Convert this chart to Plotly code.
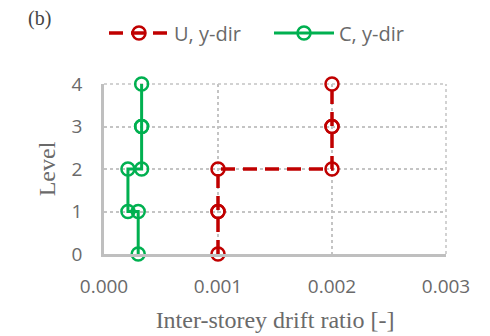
import plotly.graph_objects as go

# Storey drift profiles: each storey's drift is held constant between its floor levels
levels = [0, 1, 1, 2, 2, 3, 3, 4]
drift_u = [0.001, 0.001, 0.001, 0.001, 0.002, 0.002, 0.002, 0.002]
drift_c = [0.0003, 0.0003, 0.00021, 0.00021, 0.00033, 0.00033, 0.00033, 0.00033]

x_ticks = [0.000, 0.001, 0.002, 0.003]
y_ticks = [0, 1, 2, 3, 4]

RED = "#C00000"
GREEN = "#00B050"
GRAY_TXT = "#6A6A6A"
GRID = "#C4C4C4"
AXIS = "#BFBFBF"

fig = go.Figure()
fig.add_trace(go.Scatter(
    x=drift_u, y=levels, name="U, y-dir", mode="lines+markers",
    line=dict(color=RED, width=3.5, dash="14px,8px"),
    marker=dict(symbol="circle-open", size=13, color=RED, line=dict(width=2.5)),
    cliponaxis=False,
))
fig.add_trace(go.Scatter(
    x=drift_c, y=levels, name="C, y-dir", mode="lines+markers",
    line=dict(color=GREEN, width=3),
    marker=dict(symbol="circle-open", size=13, color=GREEN, line=dict(width=2.5)),
    cliponaxis=False,
))

# dotted frame on the top and right edges, continuing the grid
frame = dict(type="line", layer="below", line=dict(color=GRID, width=1.5, dash="dot"))
fig.add_shape(xref="paper", yref="paper", x0=0, x1=1, y0=1, y1=1, **frame)
fig.add_shape(xref="paper", yref="paper", x0=1, x1=1, y0=0, y1=1, **frame)

fig.update_layout(
    width=490, height=336,
    margin=dict(l=104, r=44, t=84, b=82),
    paper_bgcolor="white", plot_bgcolor="white",
    font=dict(family="Open Sans", color=GRAY_TXT, size=19),
    showlegend=True,
    legend=dict(
        orientation="h", x=0.0, xanchor="left", y=1.30, yanchor="middle",
        font=dict(family="Open Sans", size=20, color=GRAY_TXT),
        itemwidth=60, entrywidth=90, bgcolor="rgba(0,0,0,0)",
    ),
    annotations=[dict(
        text="(b)", xref="paper", yref="paper", x=-0.19, y=1.385,
        xanchor="center", yanchor="middle", showarrow=False,
        font=dict(family="Liberation Serif", size=20, color="#444444"),
    )],
)

fig.update_xaxes(
    range=[0, 0.003], tickvals=x_ticks, tickformat=".3f",
    showgrid=True, gridcolor=GRID, griddash="dot", gridwidth=1.5,
    showline=True, linecolor=AXIS, linewidth=2.5,
    zeroline=False, ticks="", ticklabelstandoff=13, automargin=False,
    tickfont=dict(family="Open Sans", size=19, color=GRAY_TXT),
    title=dict(text="Inter-storey drift ratio [-]", standoff=14,
               font=dict(family="Liberation Serif", size=24, color=GRAY_TXT)),
)
fig.update_yaxes(
    range=[0, 4], tickvals=y_ticks,
    showgrid=True, gridcolor=GRID, griddash="dot", gridwidth=1.5,
    showline=True, linecolor=AXIS, linewidth=2.5,
    zeroline=False, ticks="", ticklabelstandoff=15, automargin=False,
    tickfont=dict(family="Open Sans", size=19, color=GRAY_TXT),
    title=dict(text="Level", standoff=10,
               font=dict(family="Liberation Serif", size=24, color=GRAY_TXT)),
)

fig.write_html("out.html")
